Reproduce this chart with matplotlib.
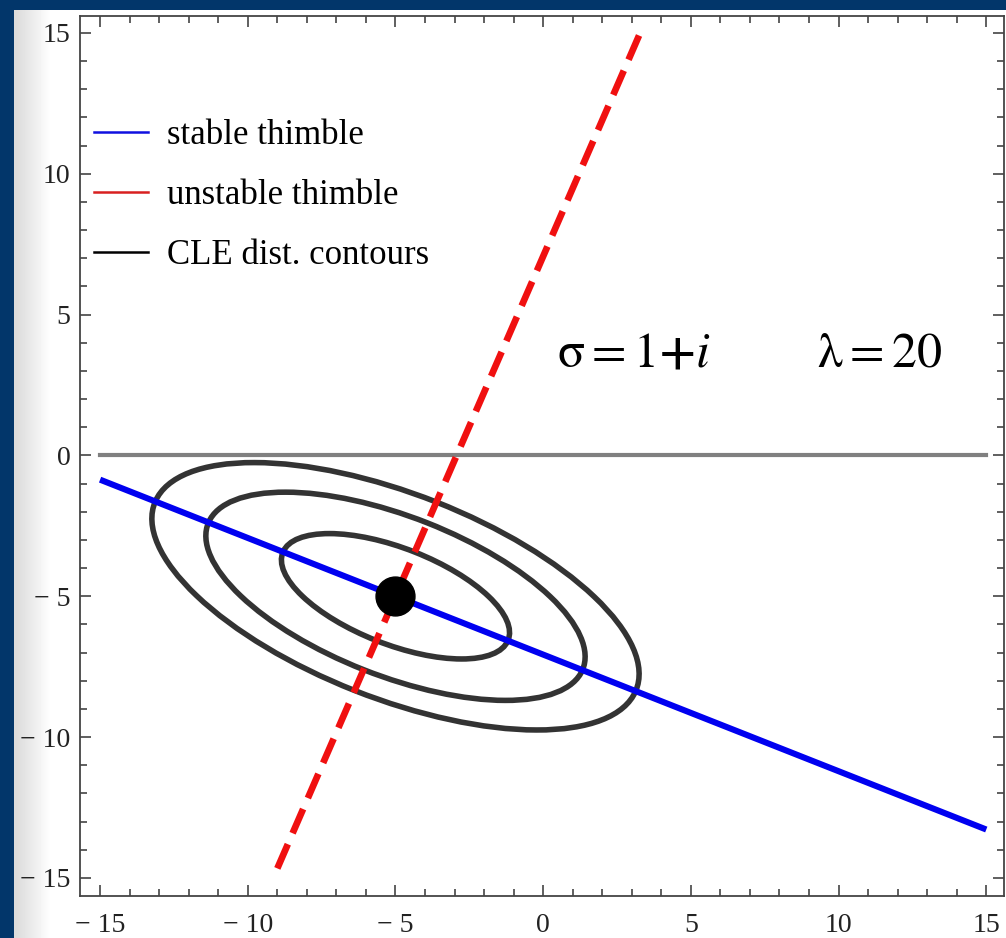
import numpy as np
import matplotlib
matplotlib.use("Agg")
import matplotlib.pyplot as plt
from matplotlib.patches import Ellipse
from matplotlib.lines import Line2D
from matplotlib.ticker import MultipleLocator, FuncFormatter

# --- data ---
zero_x = [-15, 15]
zero_y = [0, 0]

stable_x = [-15, 15]
stable_y = [-0.86, -13.28]

unstable_x = [-9.0, 3.3]
unstable_y = [-14.66, 15.04]

saddle_x = [-5.0]
saddle_y = [-5.0]

# CLE distribution contours (ellipses around the saddle)
contour_cx = [-5.0, -5.0, -5.0]
contour_cy = [-5.0, -5.0, -5.0]
contour_a = [4.12, 6.85, 8.8]   # semi-major
contour_b = [1.7, 2.82, 3.62]   # semi-minor
contour_angle = -22.5

legend_labels = ["stable thimble", "unstable thimble", "CLE dist. contours"]

plt.rcParams['font.family'] = ['Liberation Serif', 'DejaVu Serif']
plt.rcParams['mathtext.fontset'] = 'stix'
plt.rcParams['lines.scale_dashes'] = False

W, H = 1006, 938
fig = plt.figure(figsize=(W / 100, H / 100), dpi=100)
fig.patch.set_facecolor('#02366a')

# white panel with a soft grey edge on the left
bg = fig.add_axes([14 / W, 0, 1 - 14 / W, (H - 10) / H])
grad = np.ones((1, 200))
grad[0, :8] = np.linspace(0.86, 1.0, 8)
bg.imshow(grad, cmap='gray', vmin=0, vmax=1, aspect='auto',
          extent=[0, 1, 0, 1], interpolation='bilinear')
bg.set_axis_off()

ax = fig.add_axes([80 / W, (H - 896) / H, (1004 - 80) / W, (896 - 16) / H])
ax.set_facecolor('none')

ax.plot(zero_x, zero_y, color='#808080', lw=3.0, zorder=2)

for cx, cy, a, b in zip(contour_cx, contour_cy, contour_a, contour_b):
    ax.add_patch(Ellipse((cx, cy), 2 * a, 2 * b, angle=contour_angle,
                         fill=False, ec='#333333', lw=4.0, zorder=3))

ax.plot(stable_x, stable_y, color='#0000f0', lw=4.4, zorder=4,
        solid_capstyle='butt')
ax.plot(unstable_x, unstable_y, color='#f01010', lw=4.8, zorder=5,
        dashes=(19, 8.6), dash_capstyle='butt')
ax.plot(saddle_x, saddle_y, 'o', color='black', ms=28, zorder=6)

ax.text(0.48, 3.14,
        r'$\mathrm{\sigma}=1\mathbf{+}i\qquad\quad\mathrm{\lambda}=20$',
        fontsize=36, ha='left', va='baseline', zorder=7)

ax.set_xlim(-15.68, 15.6)
ax.set_ylim(-15.64, 15.6)

for a_ in (ax.xaxis, ax.yaxis):
    a_.set_major_locator(MultipleLocator(5))
    a_.set_minor_locator(MultipleLocator(1))
    a_.set_major_formatter(FuncFormatter(
        lambda v, p: ('\u2212 %d' % abs(v)) if v < 0 else '%d' % v))

ax.tick_params(which='both', direction='in', top=True, right=True,
               color='#444444', width=1.2, labelsize=20, labelcolor='#222222')
ax.tick_params(which='major', length=8)
ax.tick_params(which='minor', length=5)
ax.tick_params(axis='x', pad=12)
ax.tick_params(axis='y', pad=7)
for s in ax.spines.values():
    s.set_color('#444444')
    s.set_linewidth(1.3)

handles = [Line2D([], [], color='#1010e0', lw=1.8),
           Line2D([], [], color='#d82020', lw=1.8),
           Line2D([], [], color='black', lw=1.8)]
ax.legend(handles, legend_labels, loc='upper left', frameon=False,
          fontsize=25, handlelength=1.55, handletextpad=0.55,
          labelspacing=0.78, borderaxespad=0, bbox_to_anchor=(0.0, 0.899))

fig.savefig('out.png', dpi=100, facecolor=fig.get_facecolor())
